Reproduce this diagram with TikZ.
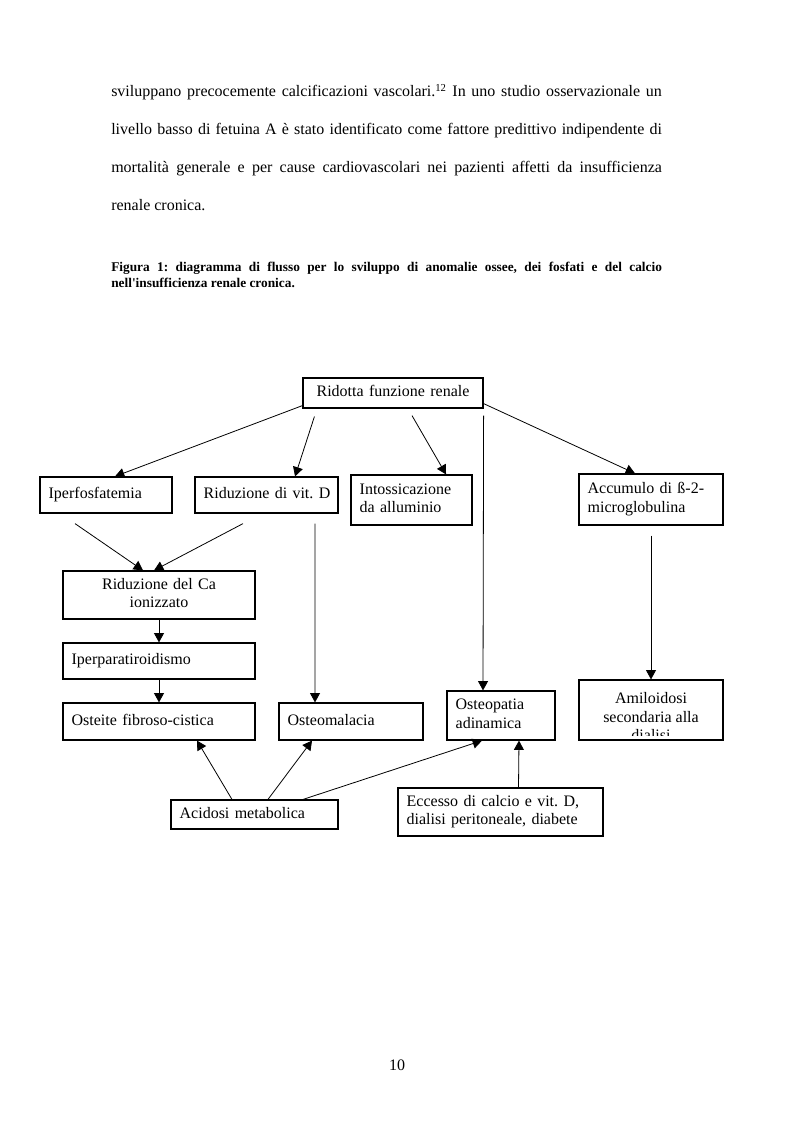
\documentclass[tikz,border=0pt]{standalone}
\usepackage{fontspec}
\setmainfont{Liberation Serif}
\usetikzlibrary{arrows.meta}
\frenchspacing

\begin{document}
\begin{tikzpicture}[x=0.75pt, y=-0.75pt, >={Triangle[length=7pt,width=7.5pt]},
	box/.style={draw, line width=0.9pt, inner xsep=6.5pt, inner ysep=2pt, font=\fontsize{12}{13.8}\selectfont,
		execute at begin node=\strut, execute at end node=\strut},
	freccia/.style={->, line width=0.6pt},
	riga/.style={anchor=base west, inner sep=0pt, font=\fontsize{12}{14}\selectfont}]
	
	% Pagina intera
	\fill[white] (0,0) rectangle (793,1123);
	\useasboundingbox (0,0) rectangle (793,1123);
	
	% Testo sopra la figura
	\node[riga] (riga1) at (111,97) {\makebox[413pt][s]{sviluppano precocemente calcificazioni vascolari.\textsuperscript{12} In uno studio osservazionale un}};
	\node[riga] (riga2) at (111,135) {\makebox[413pt][s]{livello basso di fetuina A è stato identificato come fattore predittivo indipendente di}};
	\node[riga] (riga3) at (111,172.5) {\makebox[413pt][s]{mortalità generale e per cause cardiovascolari nei pazienti affetti da insufficienza}};
	\node[riga] (riga4) at (111,210.5) {renale cronica.};
	
	% Didascalia
	\node[riga, font=\fontsize{10}{11.5}\selectfont\bfseries] (didascalia1) at (111,272) {\makebox[413pt][s]{Figura 1: diagramma di flusso per lo sviluppo di anomalie ossee, dei fosfati e del calcio}};
	\node[riga, font=\fontsize{10}{11.5}\selectfont\bfseries] (didascalia2) at (111,287) {nell\textquotesingle insufficienza renale cronica.};
	
	% Riquadri
	\node[box, align=center, text width=122pt, minimum height=22.5pt] (ridotta) at (393,393) {Ridotta funzione renale};
	\node[box, align=left, text width=86pt, minimum height=27pt] (iperfo) at (106,495) {Iperfosfatemia};
	\node[box, align=left, text width=94.25pt, minimum height=27pt] (ridvitd) at (266.5,495) {\mbox{Riduzione di vit. D}};
	\node[box, align=left, text width=77.75pt, minimum height=37.5pt] (intoss) at (411.5,500) {Intossicazione\\da alluminio};
	\node[box, align=left, text width=95pt, minimum height=38.25pt] (accumulo) at (651,499.5) {Accumulo di ß-2-\\microglobulina};
	\node[box, align=center, text width=131pt, minimum height=36pt] (ridca) at (159,595) {Riduzione del Ca\\ionizzato};
	\node[box, align=left, text width=131pt, minimum height=27pt] (iperpara) at (159,661) {Iperparatiroidismo};
	\node[box, align=left, text width=131pt, minimum height=27.75pt] (osteite) at (159,721.5) {Osteite fibroso-cistica};
	\node[box, align=left, text width=95pt, minimum height=27.75pt] (osteomal) at (351,721.5) {Osteomalacia};
	\node[box, align=left, text width=68pt, minimum height=36.75pt] (osteopat) at (501,715.5) {Osteopatia\\adinamica};
	\node[box, minimum width=108pt, minimum height=45pt] (amilo) at (651,710) {};
	\begin{scope}
		\clip (amilo.north west) rectangle ([yshift=3.6pt]amilo.south east);
		\node[anchor=north, align=center, inner sep=0pt, font=\fontsize{12}{13.8}\selectfont] (amilotesto) at ([yshift=-9.75pt]amilo.north) {Amiloidosi\\secondaria alla\\dialisi};
	\end{scope}
	\node[box, align=left, text width=112.25pt, minimum height=21.75pt] (acidosi) at (254.5,814.5) {Acidosi metabolica};
	\node[box, align=left, text width=140.75pt, minimum height=36pt] (eccesso) at (500.5,812) {Eccesso di calcio e vit. D,\\dialisi peritoneale, diabete};
	
	% Frecce dalla funzione renale
	\draw[freccia] ([yshift=2.25pt]ridotta.south west) -- ([xshift=6.75pt]iperfo.north);
	\draw[freccia] ([shift={(9pt,-6pt)}]ridotta.south west) -- ([xshift=21.4pt]ridvitd.north);
	\draw[freccia] ([shift={(14.25pt,-5.25pt)}]ridotta.south) -- ([xshift=25.9pt]intoss.north);
	\draw[freccia] ([yshift=3.75pt]ridotta.south east) -- ([xshift=-12pt]accumulo.north);
	\draw[freccia] ([yshift=-5.25pt]ridotta.south east) -- ([xshift=-13.5pt]osteopat.north);
	
	% Frecce della colonna sinistra
	\draw[freccia] ([shift={(-23.25pt,-7.5pt)}]iperfo.south) -- ([xshift=-12pt]ridca.north);
	\draw[freccia] ([shift={(-17.6pt,-7.5pt)}]ridvitd.south) -- ([xshift=-3.75pt]ridca.north);
	\draw[freccia] ([shift={(36.4pt,-7.5pt)}]ridvitd.south) -- ([xshift=-27pt]osteomal.north);
	\draw[freccia] (ridca) -- (iperpara);
	\draw[freccia] (iperpara) -- (osteite);
	\draw[freccia] ([yshift=-7.5pt]accumulo.south) -- (amilo.north);
	
	% Frecce dal basso
	\draw[freccia] ([xshift=-16.9pt]acidosi.north) -- ([xshift=28.5pt]osteite.south);
	\draw[freccia] ([xshift=10.1pt]acidosi.north) -- ([xshift=-29.25pt]osteomal.south);
	\draw[freccia] ([xshift=36.4pt]acidosi.north) -- ([xshift=-14.25pt]osteopat.south);
	\draw[freccia] ([xshift=13.5pt]eccesso.north) -- ([xshift=13.5pt]osteopat.south);
	
	% Numero di pagina
	\node[font=\fontsize{12}{14}\selectfont] (pagina) at (397,1065) {10};
	
\end{tikzpicture}
\end{document}
